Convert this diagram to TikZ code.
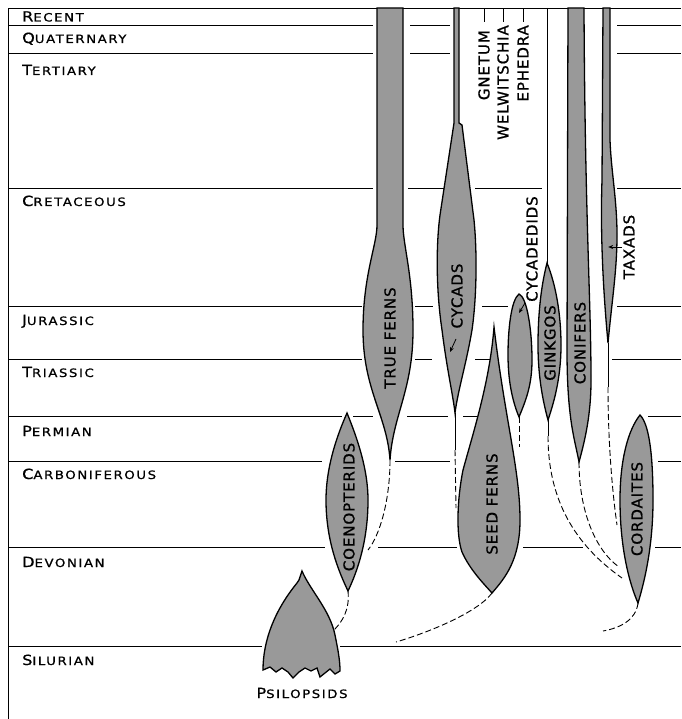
\documentclass[tikz,border=0pt]{standalone}
\usepackage{fontspec}
\setmainfont{DejaVu Sans}
\newfontfamily\erafont[FakeStretch=1.15,LetterSpace=14,FakeBold=0.8]{DejaVu Sans}
\newfontfamily\grpfont[LetterSpace=6,FakeBold=0.9]{DejaVu Sans}
\usetikzlibrary{arrows.meta}
\newcommand{\era}[2]{{\fontsize{14}{14}\selectfont #1}{\fontsize{11.5}{12}\selectfont #2}}
\tikzset{
  period/.style={line width=0.9pt},
  taxon/.style={draw, line width=1.3pt, fill=black!40},
  stem/.style={line width=0.9pt},
  lineage/.style={line width=0.9pt, dash pattern=on 6pt off 3pt},
  eralabel/.style={anchor=base west, inner sep=0pt, font=\erafont},
  grplabel/.style={rotate=90, inner sep=0pt, font=\grpfont\fontsize{15}{15}\selectfont},
  pointer/.style={-{Stealth[length=5pt,width=4pt]}, line width=0.8pt},
}
\begin{document}
\begin{tikzpicture}[x=1pt,y=-1pt]
\useasboundingbox (0,0) rectangle (681,719);
% frame and period boundaries
\coordinate (top) at (0,8);
\draw[period] (8,719) -- (8,8) -- (681,8);
\foreach \yy/\xa/\xb in {25/8/373, 25/410/450, 25/617/681,
    53/8/373, 53/410/450, 53/617/681,
    188/8/373, 188/408/448, 188/475/542, 188/617/681,
    306/8/362, 306/415/433, 306/482/508, 306/617/681,
    359/8/362, 359/415/432, 359/475/490, 359/612/681,
    416/8/342, 416/353/373, 416/407/448, 416/463/480, 416/648/681,
    461/8/322, 461/395/450, 461/658/681,
    547/8/325, 547/378/457, 547/523/583, 547/655/681,
    646/8/262, 646/340/681}
  \draw[period] (\xa,\yy) -- (\xb,\yy);
\foreach \yy/\first/\rest [count=\i] in {21.5/R/ECENT, 43/Q/UATERNARY, 75/T/ERTIARY,
    206/C/RETACEOUS, 325/J/URASSIC, 377/T/RIASSIC, 436/P/ERMIAN,
    479/C/ARBONIFEROUS, 567/D/EVONIAN, 665/S/ILURIAN}
  \node[eralabel] (era\i) at (22,\yy) {\era{\first}{\rest}};

% true ferns
\draw[taxon] (377,8) -- (377,225) .. controls (377,245) and (363,275) .. (363,330)
  .. controls (363,390) and (387,415) .. (390,460) coordinate (tfTip)
  .. controls (393,415) and (413,390) .. (413,330)
  .. controls (413,275) and (403,245) .. (403,225) -- (403,8) -- cycle;
% cycads
\draw[taxon] (454,8) -- (454,123) -- (440,215) .. controls (436,245) and (436,290) .. (442,330)
  .. controls (447,370) and (453,395) .. (455,413) coordinate (cyTip)
  .. controls (458,390) and (466,365) .. (472,330)
  .. controls (477,295) and (477,250) .. (474,220) -- (462,125) -- (459,123) -- (459,8) -- cycle;
% cycadeoids
\draw[taxon] (519,294) .. controls (511,300) and (508,330) .. (508,355)
  .. controls (508,385) and (514,405) .. (519,417) coordinate (cdTip)
  .. controls (526,400) and (532,385) .. (532,360)
  .. controls (532,330) and (527,297) .. (519,294) -- cycle;
% ginkgos
\draw[stem] (547,8) -- (547,265);
\draw[taxon] (547,263) .. controls (540,290) and (538,320) .. (538,345)
  .. controls (538,380) and (544,405) .. (548,420) coordinate (gkTip)
  .. controls (553,405) and (561,380) .. (561,345)
  .. controls (561,315) and (556,285) .. (547,263) -- cycle;
% conifers
\draw[taxon] (568,8) -- (567,350) .. controls (567,420) and (575,440) .. (579,462) coordinate (cnTip)
  .. controls (585,440) and (591,415) .. (591,380)
  .. controls (591,300) and (585,220) .. (584,8) -- cycle;
% taxads
\draw[taxon] (603,8) -- (602,180) .. controls (600,240) and (604,300) .. (608,343) coordinate (txTip)
  .. controls (612,300) and (617,270) .. (617,235)
  .. controls (617,200) and (611,170) .. (610,140) -- (610,8) -- cycle;
% seed ferns
\draw[taxon] (494,327) .. controls (490,380) and (474,430) .. (463,470)
  .. controls (457,500) and (456,535) .. (462,552)
  .. controls (470,570) and (484,584) .. (492,593) coordinate (sfTip)
  .. controls (505,578) and (520,560) .. (520,520)
  .. controls (520,470) and (505,420) .. (494,327) -- cycle;
% coenopterids
\draw[taxon] (347,413) .. controls (335,440) and (326,470) .. (326,500)
  .. controls (326,540) and (338,570) .. (348,591) coordinate (coTip)
  .. controls (358,570) and (368,540) .. (368,500)
  .. controls (368,470) and (358,440) .. (347,413) -- cycle;
% cordaites
\draw[taxon] (640,415) .. controls (628,430) and (620,460) .. (620,500)
  .. controls (620,550) and (630,585) .. (638,603) coordinate (crTip)
  .. controls (645,580) and (653,545) .. (653,500)
  .. controls (653,460) and (650,425) .. (640,415) -- cycle;
% psilopsids
\draw[taxon] (302,571) .. controls (310,590) and (330,610) .. (335,635)
  .. controls (338,650) and (340,660) .. (340,671)
  -- (335,674) -- (330,669) -- (325,673) -- (320,677) -- (317,668) -- (311,671)
  -- (305,668) -- (299,672) -- (293,678) -- (288,672) -- (282,668) -- (276,672)
  -- (270,667) -- (263,670) .. controls (263,640) and (275,610) .. (297,583)
  -- (299,580) -- cycle;

% lineages
\coordinate (coSide) at (368,550);
\coordinate (psSide) at (334,630);
\coordinate (sfSide) at (456,508);
\coordinate (sfEnd) at (396,642);
\coordinate (crEnd) at (603,631);
\coordinate (crLeftA) at (622,578);
\coordinate (crLeftB) at (619,567);
\coordinate (crLeftC) at (617,525);
\draw[lineage] (tfTip) .. controls (390,500) and (380,535) .. (coSide);
\draw[lineage] (coTip) .. controls (350,610) and (342,622) .. (psSide);
\draw[stem] (cyTip) -- ++(0,37) coordinate (cyEnd);
\draw[lineage] (cyEnd) -- (sfSide);
\draw[lineage] (cdTip) -- ++(0,30);
\draw[stem] (gkTip) -- ++(0,16) coordinate (gkEnd);
\draw[lineage] (gkEnd) .. controls (548,500) and (575,545) .. (crLeftA);
\draw[lineage] (cnTip) .. controls (579,510) and (595,550) .. (crLeftB);
\draw[stem] (txTip) -- ++(0,44) coordinate (txEnd);
\draw[lineage] (txEnd) .. controls (608,440) and (612,490) .. (crLeftC);
\draw[lineage] (sfTip) .. controls (478,612) and (430,632) .. (sfEnd);
\draw[lineage] (crTip) .. controls (636,620) and (620,628) .. (crEnd);

% group labels
\node[grplabel] (tfLab) at (390,338) {TRUE FERNS};
\node[grplabel] (cyLab) at (457,296) {CYCADS};
\node[grplabel] (cdLab) at (532,249) {CYCADEDIDS};
\node[grplabel] (gkLab) at (550,343) {GINKGOS};
\node[grplabel] (cnLab) at (580,343) {CONIFERS};
\node[grplabel] (txLab) at (629,247) {TAXADS};
\node[grplabel] (coLab) at (349,507) {COENOPTERIDS};
\node[grplabel] (sfLab) at (492,504) {SEED FERNS};
\node[grplabel] (crLab) at (637,509) {CORDAITES};
\node[grplabel, anchor=east] (gnLab) at (484,30) {GNETUM};
\node[grplabel, anchor=east] (wwLab) at (503,25) {WELWITSCHIA};
\node[grplabel, anchor=east] (epLab) at (523,25) {EPHEDRA};
\draw[stem] ([yshift=8pt]gnLab.east) -- (gnLab.east |- top);
\draw[stem] ([yshift=3pt]wwLab.east) -- (wwLab.east |- top);
\draw[stem] ([yshift=3pt]epLab.east) -- (epLab.east |- top);
\node[anchor=base, inner sep=0pt, font=\erafont] (psLab) at (302,698) {\era{P}{SILOPSIDS}};

% pointers
\draw[pointer] ([xshift=-1pt]txLab.north) -- ++(-14,0);
\draw[pointer] (456,339) -- (450,352);
\draw[pointer] (525,303) -- (519,313);
\end{tikzpicture}
\end{document}
